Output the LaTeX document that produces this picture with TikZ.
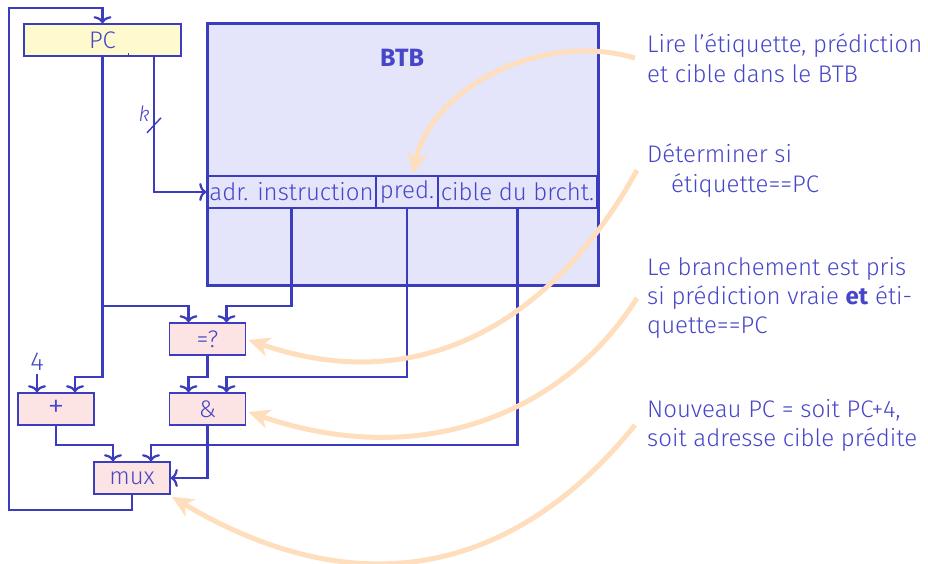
\documentclass[tikz,border=0pt]{standalone}
\usepackage{fontspec}
\setmainfont{Fira Sans Light}[BoldFont={Fira Sans Bold},ItalicFont={Fira Sans Light Italic},Numbers=Lining]
\usetikzlibrary{arrows.meta,calc}
\definecolor{lineblue}{RGB}{60,60,190}
\definecolor{txtblue}{RGB}{70,70,200}
\definecolor{boxpink}{RGB}{252,228,228}
\definecolor{pcyellow}{RGB}{255,250,205}
\definecolor{btbfill}{RGB}{228,228,250}
\definecolor{peach}{RGB}{255,222,190}
\begin{document}
\begin{tikzpicture}[x=1pt,y=-1pt,
  every node/.style={text=txtblue, font=\fontsize{24}{30}\selectfont, inner sep=0pt},
  opbox/.style={draw=lineblue, line width=1.6pt, fill=boxpink, minimum width=76pt, minimum height=32pt},
  cell/.style={draw=lineblue, line width=1.6pt, minimum height=32pt},
  wire/.style={draw=lineblue, line width=2.2pt},
  arr/.style={wire, -{Computer Modern Rightarrow[length=7pt,width=18pt]}},
  note/.style={anchor=base west},
  hint/.style={draw=peach, line width=5pt, -{Stealth[length=22pt,width=20pt,inset=7pt,line width=1pt]}}
]
\useasboundingbox (0,0) rectangle (928,564);

% BTB
\node[draw=lineblue, line width=3pt, fill=btbfill, minimum width=391pt, minimum height=261pt] (btb) at (402.5,154.5) {};
\node[font=\bfseries\fontsize{25}{28}\selectfont] (btbt) at (402,58) {BTB};
\node[cell, minimum width=169pt] (adr) at (291.5,192) {adr. instruction};
\node[cell, minimum width=62pt] (pred) at (407,192) {pred.};
\node[cell, minimum width=159pt] (cible) at (517.5,192) {cible du brcht.};

% PC
\node[draw=lineblue, line width=1.6pt, fill=pcyellow, minimum width=157pt, minimum height=32pt] (pc) at (102.5,40) {PC};
\draw[lineblue, line width=1pt] ($(pc.south)+(25.5,0)$) -- ++(0,-4);

% operators
\node[opbox] (eq) at (207.5,339) {=?};
\node[opbox] (and) at (207.5,409) {\&};
\node[opbox, font=\fontsize{34}{34}\selectfont] (add) at (56,409) {+};
\node[opbox] (mux) at (132,478) {mux};
\node[font=\fontsize{26}{30}\selectfont] (four) at (37,362) {4};

\coordinate (eqA) at ($(eq.north)+(-19,0)$);
\coordinate (eqB) at ($(eq.north)+(19,0)$);
\coordinate (andA) at ($(and.north)+(-19,0)$);
\coordinate (andB) at ($(and.north)+(19,0)$);
\coordinate (addA) at ($(add.north)+(-19,0)$);
\coordinate (addB) at ($(add.north)+(19,0)$);
\coordinate (muxA) at ($(mux.north)+(-19,0)$);
\coordinate (muxB) at ($(mux.north)+(19,0)$);
\coordinate (eqhl) at ($(eq.north)+(0,-16)$);
\coordinate (pck) at ($(pc.south)+(51.5,0)$);
\coordinate (fbBL) at (9,510);
\coordinate (fbTL) at (9,8);

% wires
\draw[arr] (pc.south) |- ($(addB)+(0,-15)$) -- (addB);
\draw[arr] (pc.south |- eqhl) -| (eqA);
\draw[arr] (pck) |- (adr.west);
\draw[wire, line width=1.4pt] ($(pck)+(-7,76)$) -- ($(pck)+(7,61)$);
\node[font=\itshape\fontsize{21}{22}\selectfont] (klab) at (144,114) {k};
\draw[arr] (adr.south) |- ($(eqB)+(0,-16)$) -- (eqB);
\draw[arr] (eq.south) |- ($(andA)+(0,-15)$) -- (andA);
\draw[arr] (pred.south) |- ($(andB)+(0,-15)$) -- (andB);
\draw[arr, shorten <=3pt] (four.south) -- (addA);
\draw[arr] (add.south) |- ($(muxA)+(0,-16)$) -- (muxA);
\draw[arr] (cible.south) |- ($(muxB)+(0,-16)$) -- (muxB);
\draw[arr] (and.south) |- (mux.east);
\draw[arr] (mux.south) |- (fbBL) -- (fbTL) -| (pc.north);

% notes
\node[note] (n1a) at (647,53) {Lire l’étiquette, prédiction};
\node[note] (n1b) at (647,83) {et cible dans le BTB};
\node[note] (n2a) at (647,163) {Déterminer si};
\node[note] (n2b) at (671,193) {étiquette==PC};
\node[note] (n3a) at (647,275) {Le branchement est pris};
\node[note] (n3b) at (647,304) {si prédiction vraie \textbf{et} éti-};
\node[note] (n3c) at (647,333) {quette==PC};
\node[note] (n4a) at (647,417) {Nouveau PC = soit PC+4,};
\node[note] (n4b) at (647,446) {soit adresse cible prédite};

% hint arrows
\coordinate (s1) at (635,58);
\coordinate (s2) at (637,170);
\coordinate (s3) at (637,298);
\coordinate (s4) at (635,425);
\draw[hint] (s1) .. controls (540,30) and (430,90) .. ($(pred.north)+(6,-1)$);
\draw[hint] (s2) .. controls (565,302) and (437,404) .. ($(eq.east)+(2,1)$);
\draw[hint] (s3) .. controls (568,408) and (428,473) .. ($(and.east)+(2,3)$);
\draw[hint] (s4) .. controls (522,565) and (368,613) .. ($(mux.south east)+(1,2)$);
\end{tikzpicture}
\end{document}
